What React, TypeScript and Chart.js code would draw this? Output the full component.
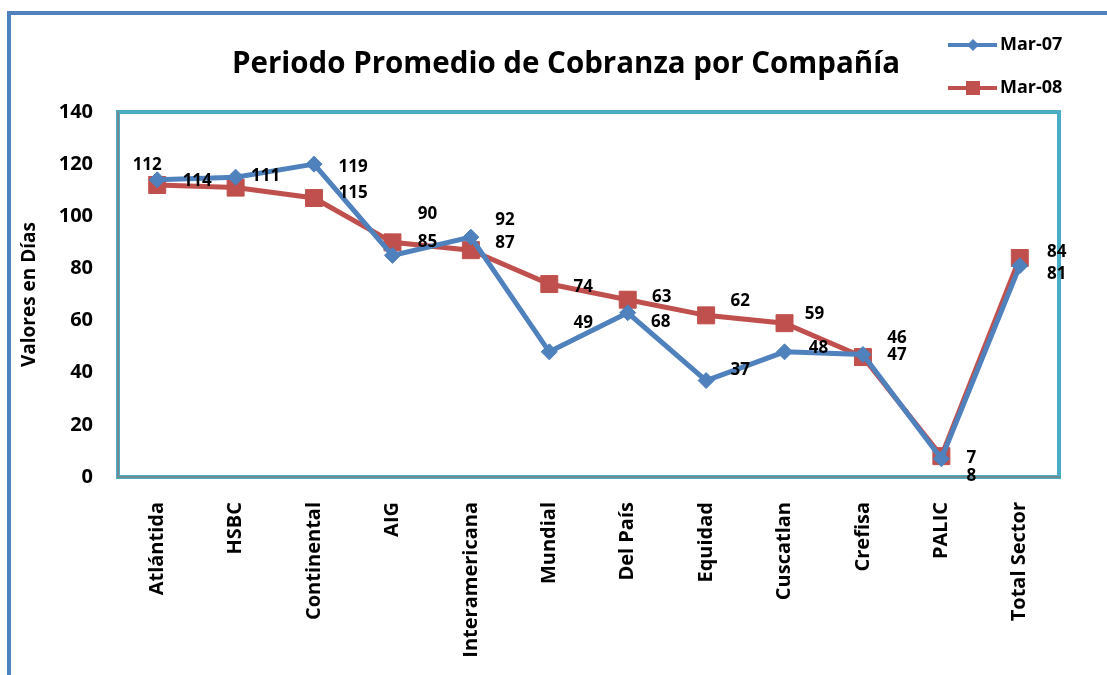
import React, { useEffect, useRef } from 'react';
import { Chart, registerables } from 'chart.js';

Chart.register(...registerables);

const categories = ['Atlántida', 'HSBC', 'Continental', 'AIG', 'Interamericana', 'Mundial', 'Del País', 'Equidad', 'Cuscatlan', 'Crefisa', 'PALIC', 'Total Sector'];
const mar07 = [114, 115, 120, 85, 92, 48, 63, 37, 48, 47, 7, 81];
const mar08 = [112, 111, 107, 90, 87, 74, 68, 62, 59, 46, 8, 84];
const mar07Labels = ['114', '', '119', '85', '92', '49', '68', '37', '48', '47', '7', '81'];
const mar08Labels = ['112', '111', '115', '90', '87', '74', '63', '62', '59', '46', '8', '84'];
const seriesNames = ['Mar-07', 'Mar-08'];
const title = 'Periodo Promedio de Cobranza por Compañía';
const yTitle = 'Valores en Días';
const yMin = 0;
const yMax = 140;
const yStep = 20;

// label placement (px offsets from the point), layout only
const mar07Offsets = [[40, 1], [0, 0], [39, 3], [35, -13], [34, -17], [34, -29], [33, 9], [34, -10], [34, -4], [34, 1], [30, -1], [37, 8]];
const mar08Offsets = [[-10, -20], [30, -11], [39, -5], [35, -28], [34, -7], [34, 3], [34, -3], [34, -14], [30, -9], [34, -19], [30, 20], [37, -6]];

const FONT = '"Open Sans", "DejaVu Sans", sans-serif';
const BLUE = '#4F81BD';
const RED = '#C0504D';
const TEAL = '#4BACC6';

const decorPlugin = {
  id: 'decor',
  beforeDraw(chart: any) {
    const { ctx, width, height } = chart;
    ctx.save();
    ctx.fillStyle = '#ffffff';
    ctx.fillRect(0, 0, width, height);
    ctx.restore();
  },
  beforeDatasetsDraw(chart: any) {
    const { ctx, chartArea: a } = chart;
    ctx.save();
    ctx.strokeStyle = TEAL;
    ctx.lineWidth = 4;
    ctx.strokeRect(a.left, a.top, a.right - a.left, a.bottom - a.top);
    ctx.strokeStyle = '#808080';
    ctx.lineWidth = 1.5;
    ctx.beginPath();
    ctx.moveTo(a.left, a.top - 1);
    ctx.lineTo(a.left, a.bottom);
    ctx.lineTo(a.right + 1, a.bottom);
    ctx.stroke();
    ctx.restore();
  },
  afterDatasetsDraw(chart: any) {
    const { ctx } = chart;
    const sets = [
      { labels: mar07Labels, offs: mar07Offsets },
      { labels: mar08Labels, offs: mar08Offsets },
    ];
    ctx.save();
    ctx.fillStyle = '#000000';
    ctx.font = `bold 17px ${FONT}`;
    ctx.textAlign = 'center';
    ctx.textBaseline = 'middle';
    sets.forEach((s, di) => {
      const meta = chart.getDatasetMeta(di);
      meta.data.forEach((pt: any, i: number) => {
        const t = s.labels[i];
        if (!t) return;
        ctx.fillText(t, pt.x + s.offs[i][0], pt.y + s.offs[i][1]);
      });
    });
    ctx.restore();
  },
  afterDraw(chart: any) {
    const { ctx } = chart;
    ctx.save();
    // outer frame
    ctx.strokeStyle = BLUE;
    ctx.lineWidth = 4;
    ctx.strokeRect(9, 13, 1200, 800);
    // title
    ctx.fillStyle = '#000000';
    ctx.font = `bold 29.5px ${FONT}`;
    ctx.textAlign = 'center';
    ctx.textBaseline = 'alphabetic';
    ctx.fillText(title, 566, 73);
    // legend
    const items = [
      { name: seriesNames[0], color: BLUE, style: 'diamond', y: 45 },
      { name: seriesNames[1], color: RED, style: 'square', y: 88 },
    ];
    items.forEach((it) => {
      ctx.strokeStyle = it.color;
      ctx.lineWidth = 4;
      ctx.beginPath();
      ctx.moveTo(948, it.y);
      ctx.lineTo(997, it.y);
      ctx.stroke();
      ctx.fillStyle = it.color;
      if (it.style === 'diamond') {
        ctx.beginPath();
        ctx.moveTo(973, it.y - 6);
        ctx.lineTo(979, it.y);
        ctx.lineTo(973, it.y + 6);
        ctx.lineTo(967, it.y);
        ctx.closePath();
        ctx.fill();
      } else {
        ctx.fillRect(966, it.y - 7, 14, 14);
      }
      ctx.fillStyle = '#000000';
      ctx.font = `bold 18px ${FONT}`;
      ctx.textAlign = 'left';
      ctx.textBaseline = 'middle';
      ctx.fillText(it.name, 1000, it.y);
    });
    ctx.restore();
  },
};

export default function App() {
  const ref = useRef<HTMLCanvasElement | null>(null);
  useEffect(() => {
    document.body.style.margin = '0';
    const chart = new Chart(ref.current as HTMLCanvasElement, {
      type: 'line',
      data: {
        labels: categories,
        datasets: [
          {
            label: seriesNames[0],
            data: mar07,
            borderColor: BLUE,
            backgroundColor: BLUE,
            borderWidth: 5,
            pointStyle: 'rectRot',
            pointRadius: 8,
            pointBorderWidth: 1,
            pointBackgroundColor: BLUE,
            pointBorderColor: BLUE,
            tension: 0,
            clip: false,
          },
          {
            label: seriesNames[1],
            data: mar08,
            borderColor: RED,
            backgroundColor: RED,
            borderWidth: 5,
            pointStyle: 'rect',
            pointRadius: 12,
            pointBorderWidth: 1,
            pointBackgroundColor: RED,
            pointBorderColor: RED,
            tension: 0,
            clip: false,
          },
        ],
      },
      options: {
        responsive: false,
        animation: false,
        layout: { padding: { left: 18, right: 48, top: 112, bottom: 8 } },
        plugins: {
          legend: { display: false },
          title: { display: false },
          tooltip: { enabled: false },
        },
        scales: {
          x: {
            type: 'category',
            offset: true,
            grid: { display: false },
            border: { display: false },
            ticks: {
              autoSkip: false,
              maxRotation: 90,
              minRotation: 90,
              padding: 17,
              color: '#000000',
              font: { family: FONT, size: 20, weight: 'bold' },
            },
            afterFit: (s: any) => { s.height = 190; },
          },
          y: {
            min: yMin,
            max: yMax,
            grid: { display: false },
            border: { display: false },
            ticks: {
              stepSize: yStep,
              padding: 17,
              color: '#000000',
              font: { family: FONT, size: 20, weight: 'bold' },
            },
            title: {
              display: true,
              text: yTitle,
              color: '#000000',
              padding: 0,
              font: { family: FONT, size: 19, weight: 'bold' },
            },
            afterFit: (s: any) => { s.width = 100; },
          },
        },
      },
      plugins: [decorPlugin],
    } as any);
    return () => chart.destroy();
  }, []);
  return (
    <div style={{ width: 1107, height: 675 }}>
      <canvas ref={ref} width={1107} height={675} style={{ display: 'block' }} />
    </div>
  );
}
